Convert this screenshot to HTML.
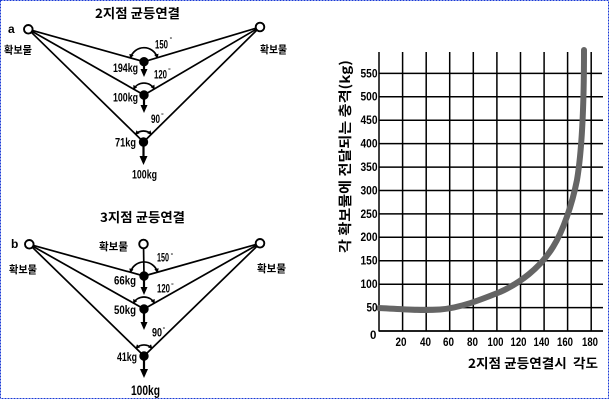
<!DOCTYPE html>
<html><head><meta charset="utf-8"><style>
html,body{margin:0;padding:0;background:#fff;}
svg{display:block;}
text{font-family:"Liberation Sans","Noto Sans CJK KR",sans-serif;fill:#000;}
.k{font-family:"Noto Sans CJK KR","Liberation Sans",sans-serif;font-weight:bold;}
.b{font-weight:bold;}
</style></head><body>
<svg width="610" height="401" viewBox="0 0 610 401" xmlns="http://www.w3.org/2000/svg">
<defs>
<marker id="ah" viewBox="0 0 10 10" refX="8" refY="5" markerWidth="4.5" markerHeight="4.5" orient="auto-start-reverse" markerUnits="userSpaceOnUse"><path d="M0,0 L10,5 L0,10 z" fill="#000"/></marker>
</defs>
<rect x="0.5" y="0.5" width="608" height="398" fill="#fff" stroke="#1a3ad6" stroke-width="1" stroke-dasharray="2,1"/>

<!-- Diagram a -->
<text class="k" x="95" y="18" font-size="13" textLength="85" lengthAdjust="spacingAndGlyphs">2지점 균등연결</text>
<text class="b" x="8" y="33" font-size="12">a</text>
<text class="k" x="4" y="53.5" font-size="10.5" textLength="28" lengthAdjust="spacingAndGlyphs">확보물</text>
<text class="k" x="260" y="53" font-size="10.5" textLength="27" lengthAdjust="spacingAndGlyphs">확보물</text>
<g stroke="#000" stroke-width="1.7" fill="none">
<line x1="28.3" y1="29.3" x2="144" y2="61.7"/><line x1="260" y1="27" x2="144" y2="61.7"/>
<line x1="28.3" y1="29.3" x2="144" y2="95"/><line x1="260" y1="27" x2="144" y2="95"/>
<line x1="28.3" y1="29.3" x2="143.5" y2="142"/><line x1="260" y1="27" x2="143.5" y2="142"/>
<path d="M130.5,57.9 A14,14 0 0 1 157.4,57.7" marker-start="url(#ah)" marker-end="url(#ah)"/>
<path d="M133.6,89.1 A12,12 0 0 1 154.3,88.9" marker-start="url(#ah)" marker-end="url(#ah)"/>
<path d="M135.6,134.3 A11,11 0 0 1 151.3,134.3" marker-start="url(#ah)" marker-end="url(#ah)"/>
</g>
<circle cx="28.3" cy="29.3" r="4.3" fill="#fff" stroke="#000" stroke-width="1.9"/>
<circle cx="260" cy="27" r="4.3" fill="#fff" stroke="#000" stroke-width="1.9"/>
<g fill="#000" stroke="#000">
<circle cx="144" cy="61.7" r="4.2"/><line x1="144" y1="61.7" x2="144" y2="70" stroke-width="2.2"/><path d="M140.5,69 L147.5,69 L144,77 z" stroke="none"/>
<circle cx="144" cy="95" r="4.2"/><line x1="144" y1="95" x2="144" y2="106" stroke-width="2.2"/><path d="M140.5,105 L147.5,105 L144,113 z" stroke="none"/>
<circle cx="143.5" cy="142" r="4.2"/><line x1="143.5" y1="142" x2="143.5" y2="157" stroke-width="2.2"/><path d="M139.5,156 L147.5,156 L143.5,165 z" stroke="none"/>
</g>
<text class="b" x="155" y="48.5" font-size="12" textLength="13" lengthAdjust="spacingAndGlyphs">150</text><text x="169.5" y="42" font-size="7">°</text>
<text class="b" x="113" y="72" font-size="12" textLength="25" lengthAdjust="spacingAndGlyphs">194kg</text>
<text class="b" x="154" y="78.3" font-size="12" textLength="13" lengthAdjust="spacingAndGlyphs">120</text><text x="168" y="73" font-size="7">°</text>
<text class="b" x="113" y="101.5" font-size="12" textLength="25" lengthAdjust="spacingAndGlyphs">100kg</text>
<text class="b" x="151" y="123" font-size="12" textLength="9" lengthAdjust="spacingAndGlyphs">90</text><text x="161" y="118" font-size="7">°</text>
<text class="b" x="115" y="146.5" font-size="12" textLength="21" lengthAdjust="spacingAndGlyphs">71kg</text>
<text class="b" x="132" y="178.5" font-size="12" textLength="25" lengthAdjust="spacingAndGlyphs">100kg</text>

<!-- Diagram b -->
<text class="k" x="100" y="222" font-size="13" textLength="85" lengthAdjust="spacingAndGlyphs">3지점 균등연결</text>
<text class="b" x="11" y="248" font-size="12">b</text>
<text class="k" x="9" y="273" font-size="10.5" textLength="28" lengthAdjust="spacingAndGlyphs">확보물</text>
<text class="k" x="99" y="250" font-size="10.5" textLength="29" lengthAdjust="spacingAndGlyphs">확보물</text>
<text class="k" x="257" y="272" font-size="10.5" textLength="29" lengthAdjust="spacingAndGlyphs">확보물</text>
<g stroke="#000" stroke-width="1.7" fill="none">
<line x1="29.3" y1="244.3" x2="144" y2="276"/><line x1="260" y1="243.3" x2="144" y2="276"/>
<line x1="29.3" y1="244.3" x2="144" y2="309"/><line x1="260" y1="243.3" x2="144" y2="309"/>
<line x1="29.3" y1="244.3" x2="144" y2="356"/><line x1="260" y1="243.3" x2="144" y2="356"/>
<line x1="143.5" y1="244" x2="144" y2="276"/>
<path d="M130.5,272.3 A14,14 0 0 1 157.5,272.2" marker-start="url(#ah)" marker-end="url(#ah)"/>
<path d="M133.5,303.1 A12,12 0 0 1 154.4,303.1" marker-start="url(#ah)" marker-end="url(#ah)"/>
<path d="M136.1,348.3 A11,11 0 0 1 151.9,348.3" marker-start="url(#ah)" marker-end="url(#ah)"/>
</g>
<circle cx="29.3" cy="244.3" r="4.3" fill="#fff" stroke="#000" stroke-width="1.9"/>
<circle cx="260" cy="243.3" r="4.3" fill="#fff" stroke="#000" stroke-width="1.9"/>
<circle cx="143.5" cy="244" r="4.3" fill="#fff" stroke="#000" stroke-width="1.9"/>
<g fill="#000" stroke="#000">
<circle cx="144" cy="276" r="4.2"/><line x1="144" y1="276" x2="144" y2="288" stroke-width="2.2"/><path d="M140.5,287 L147.5,287 L144,295 z" stroke="none"/>
<circle cx="144" cy="309" r="4.2"/><line x1="144" y1="309" x2="144" y2="323" stroke-width="2.2"/><path d="M140.5,322 L147.5,322 L144,330 z" stroke="none"/>
<circle cx="144" cy="356" r="4.2"/><line x1="144" y1="356" x2="144" y2="370" stroke-width="2.2"/><path d="M140,369 L148,369 L144,378 z" stroke="none"/>
</g>
<text class="b" x="157" y="261.5" font-size="12" textLength="12" lengthAdjust="spacingAndGlyphs">150</text><text x="170.5" y="258" font-size="7">°</text>
<text class="b" x="114" y="284.5" font-size="12" textLength="22" lengthAdjust="spacingAndGlyphs">66kg</text>
<text class="b" x="157" y="292.5" font-size="12" textLength="13" lengthAdjust="spacingAndGlyphs">120</text><text x="171" y="288" font-size="7">°</text>
<text class="b" x="114" y="314" font-size="12" textLength="22" lengthAdjust="spacingAndGlyphs">50kg</text>
<text class="b" x="152" y="336.5" font-size="12" textLength="10" lengthAdjust="spacingAndGlyphs">90</text><text x="162.5" y="332" font-size="7">°</text>
<text class="b" x="117" y="361" font-size="12" textLength="20" lengthAdjust="spacingAndGlyphs">41kg</text>
<text class="b" x="131" y="395" font-size="14" textLength="29" lengthAdjust="spacingAndGlyphs">100kg</text>

<!-- Chart -->
<g stroke="#000" stroke-width="1.5">
<line x1="379" y1="52" x2="379" y2="331.5"/>
<line x1="402.6" y1="52" x2="402.6" y2="331"/>
<line x1="426.2" y1="52" x2="426.2" y2="331"/>
<line x1="449.7" y1="52" x2="449.7" y2="331"/>
<line x1="473.3" y1="52" x2="473.3" y2="331"/>
<line x1="496.9" y1="52" x2="496.9" y2="331"/>
<line x1="520.5" y1="52" x2="520.5" y2="331"/>
<line x1="544.1" y1="52" x2="544.1" y2="331"/>
<line x1="567.6" y1="52" x2="567.6" y2="331"/>
<line x1="591.2" y1="52" x2="591.2" y2="331"/>
<line x1="379" y1="331" x2="603" y2="331" stroke-width="1.8"/>
<line x1="379" y1="307.6" x2="603" y2="307.6"/>
<line x1="379" y1="284.2" x2="603" y2="284.2"/>
<line x1="379" y1="260.7" x2="603" y2="260.7"/>
<line x1="379" y1="237.3" x2="603" y2="237.3"/>
<line x1="379" y1="213.9" x2="603" y2="213.9"/>
<line x1="379" y1="190.5" x2="603" y2="190.5"/>
<line x1="379" y1="167.1" x2="603" y2="167.1"/>
<line x1="379" y1="143.6" x2="603" y2="143.6"/>
<line x1="379" y1="120.2" x2="603" y2="120.2"/>
<line x1="379" y1="96.8" x2="603" y2="96.8"/>
<line x1="379" y1="73.4" x2="602" y2="73.4"/>
</g>
<path d="M379,308 C400,309 420,311 440,309.5 C460,308 480,300 500,292 C520,283 540,268 553,247 C563,231 572,205 577,180 C582,150 584,110 584,50" fill="none" stroke="#656565" stroke-width="6" stroke-linecap="round" stroke-linejoin="round"/>

<g font-size="11.5" text-anchor="end" font-weight="bold">
<text x="377.5" y="311.5" textLength="11" lengthAdjust="spacingAndGlyphs">50</text>
<text x="377.5" y="288.1" textLength="17" lengthAdjust="spacingAndGlyphs">100</text>
<text x="377.5" y="264.6" textLength="17" lengthAdjust="spacingAndGlyphs">150</text>
<text x="377.5" y="241.2" textLength="17" lengthAdjust="spacingAndGlyphs">200</text>
<text x="377.5" y="217.8" textLength="17" lengthAdjust="spacingAndGlyphs">250</text>
<text x="377.5" y="194.4" textLength="17" lengthAdjust="spacingAndGlyphs">300</text>
<text x="377.5" y="171" textLength="17" lengthAdjust="spacingAndGlyphs">350</text>
<text x="377.5" y="147.5" textLength="17" lengthAdjust="spacingAndGlyphs">400</text>
<text x="377.5" y="124.1" textLength="17" lengthAdjust="spacingAndGlyphs">450</text>
<text x="377.5" y="100.7" textLength="17" lengthAdjust="spacingAndGlyphs">500</text>
<text x="377.5" y="77.3" textLength="17" lengthAdjust="spacingAndGlyphs">550</text>
</g>
<text class="b" x="370" y="339" font-size="11.5">0</text>
<g font-size="11.5" text-anchor="middle" font-weight="bold">
<text x="401" y="346" textLength="11" lengthAdjust="spacingAndGlyphs">20</text>
<text x="425.5" y="346" textLength="11" lengthAdjust="spacingAndGlyphs">40</text>
<text x="448.5" y="346" textLength="11" lengthAdjust="spacingAndGlyphs">60</text>
<text x="472.5" y="346" textLength="11" lengthAdjust="spacingAndGlyphs">80</text>
<text x="495.5" y="346" textLength="16" lengthAdjust="spacingAndGlyphs">100</text>
<text x="518.5" y="346" textLength="16" lengthAdjust="spacingAndGlyphs">120</text>
<text x="541.5" y="346" textLength="16" lengthAdjust="spacingAndGlyphs">140</text>
<text x="565" y="346" textLength="16" lengthAdjust="spacingAndGlyphs">160</text>
<text x="590" y="346" textLength="16" lengthAdjust="spacingAndGlyphs">180</text>
</g>
<text class="k" x="468" y="368" font-size="13" textLength="130" lengthAdjust="spacingAndGlyphs" xml:space="preserve">2지점 균등연결시  각도</text>
<text class="k" transform="translate(350,253) rotate(-90)" x="0" y="0" font-size="13.5" textLength="193" lengthAdjust="spacingAndGlyphs">각 확보물에 전달되는 충격(kg)</text>
</svg>
</body></html>
